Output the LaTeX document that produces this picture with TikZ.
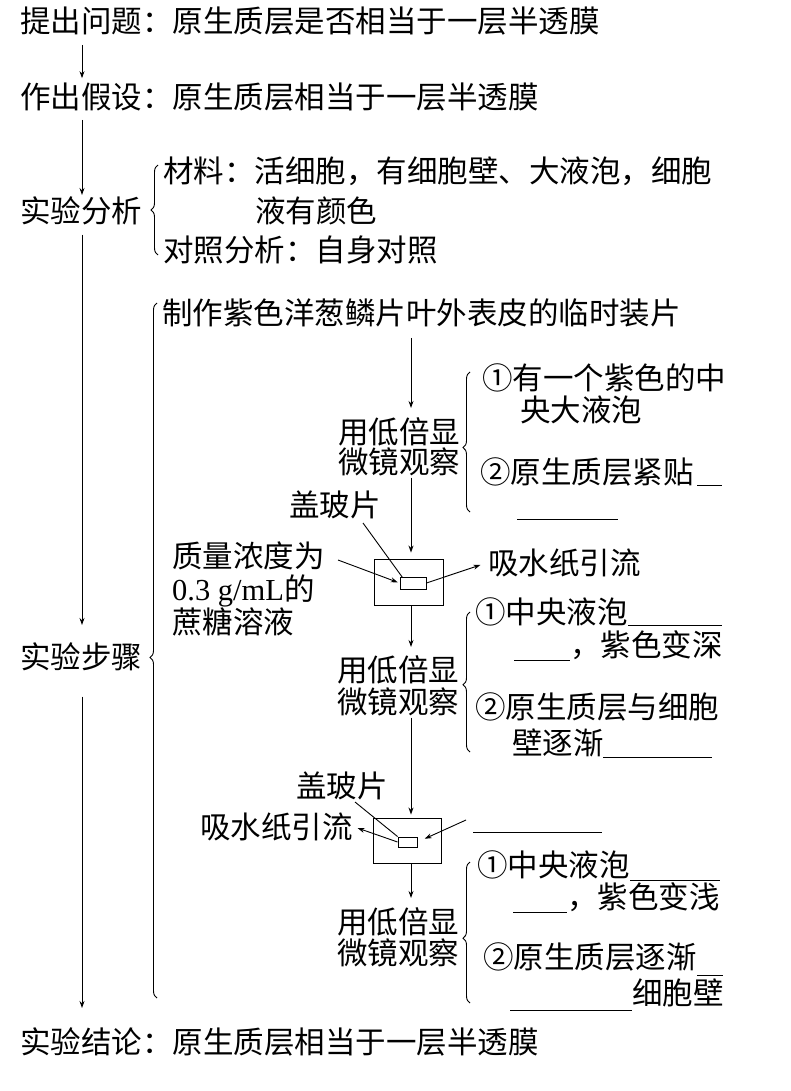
\documentclass[tikz,border=0pt]{standalone}
\usepackage{fontspec}
\setmainfont{Noto Sans CJK SC}
\newfontfamily\latinfont{Liberation Serif}
\usetikzlibrary{arrows.meta,decorations.pathreplacing,calc}
\begin{document}
\begin{tikzpicture}[x=1pt,y=-1pt,
  txt/.style={anchor=base west,inner sep=0pt,align=left,font=\fontsize{30.5}{32}\selectfont},
  arr/.style={line width=0.9pt,-{Stealth[length=7pt,width=5pt]}},
  ln/.style={line width=0.9pt},
  blank/.style={line width=0.9pt},
  brc/.style={line width=0.9pt,decorate,decoration={brace,amplitude=7pt}},
  box/.style={draw,line width=0.9pt,inner sep=0pt}]
\useasboundingbox (0,0) rectangle (790,1091);

% left column
\node[txt] (q1) at (20,33) {提出问题：原生质层是否相当于一层半透膜};
\node[txt] (q2) at (20,109) {作出假设：原生质层相当于一层半透膜};
\node[txt] (ana) at (20,223) {实验分析};
\node[txt] (steps) at (20,668) {实验步骤};
\node[txt] (concl) at (20,1053) {实验结论：原生质层相当于一层半透膜};
\coordinate (colA) at (82,0);

\draw[arr,shorten <=9pt,shorten >=5pt] (q1.south -| colA) -- (q2.north -| colA);
\draw[arr,shorten <=8pt,shorten >=2pt] (q2.south -| colA) -- (ana.north -| colA);
\draw[arr,shorten <=9pt,shorten >=17pt] (ana.south -| colA) -- (steps.north -| colA);
\draw[arr,shorten <=26pt,shorten >=19pt] (steps.south -| colA) -- (concl.north -| colA);

% analysis
\node[txt] (mat) at (163,223) {材料：活细胞，有细胞壁、大液泡，细胞\\[8pt]\hspace{92pt}液有颜色};
\node[txt] (ctrl) at (163,261) {对照分析：自身对照};
\draw[brc] (158,255) -- (158,165);

% steps brace
\draw[brc,decoration={aspect=0.49}] (157,998) -- (157,303);
\node[txt] (make) at (162,324) {制作紫色洋葱鳞片叶外表皮的临时装片};
\coordinate (colB) at (411,0);

% observation 1
\node[txt,font=\fontsize{30.5}{30}\selectfont] (obs1) at (338,473) {用低倍显\\微镜观察};
\draw[arr,shorten <=11pt,shorten >=9pt] (make.south -| colB) -- (obs1.north -| colB);
\draw[brc,decoration={aspect=0.46}] (470,512) -- (470,372);
\node[txt,font=\fontsize{30.5}{32}\selectfont] (o1a) at (482,421) {①有一个紫色的中\\\hspace{38pt}央大液泡};
\node[txt] (o1b) at (480,483) {②原生质层紧贴};
\draw[blank] (697,485) -- (722,485);
\draw[blank] (517,519) -- (618,519);

% slide 1
\node[box,minimum width=69pt,minimum height=46pt] (b1) at (408.5,582) {};
\node[box,minimum width=26pt,minimum height=12pt] (sr1) at (413,583) {};
\node[txt] (cov1) at (289,516) {盖玻片};
\node[txt,font=\fontsize{30.5}{33}\selectfont] (sol) at (172,633) {质量浓度为\\{\latinfont 0.3 g/mL}的\\蔗糖溶液};
\node[txt] (abs1) at (488,574) {吸水纸引流};
\coordinate (s1) at (338,560);
\coordinate (c1) at (363,523);
\draw[arr,shorten >=2pt] (s1) -- (sr1.west);
\draw[ln] (c1) -- ($(sr1.north west)+(3,1)$);
\draw[arr,shorten >=8pt] (sr1.east) -- (abs1.west);
\draw[arr,shorten <=2pt,shorten >=6pt] (obs1.south -| colB) -- (b1.north -| colB);

% observation 2
\node[txt,font=\fontsize{30.5}{32}\selectfont] (obs2) at (337,713) {用低倍显\\微镜观察};
\draw[arr,shorten >=8pt] (b1.south -| colB) -- (obs2.north -| colB);
\draw[brc,decoration={aspect=0.48}] (470,752) -- (470,612);
\node[txt,font=\fontsize{30.5}{33}\selectfont] (o2a) at (475,656) {①中央液泡\\\hspace{95pt}，紫色变深};
\draw[blank] (628,625) -- (722,625);
\draw[blank] (514,660) -- (570,660);
\node[txt,font=\fontsize{30.5}{36}\selectfont] (o2b) at (475,754) {②原生质层与细胞\\\hspace{37pt}壁逐渐};
\draw[blank] (603,757) -- (712,757);

% slide 2
\node[box,minimum width=68pt,minimum height=45pt] (b2) at (407,840.5) {};
\node[box,minimum width=19pt,minimum height=10pt] (sr2) at (407.5,842) {};
\node[txt] (cov2) at (296,797) {盖玻片};
\node[txt] (abs2) at (200,838) {吸水纸引流};
\coordinate (c2) at (355,802);
\coordinate (s2) at (466,820);
\draw[arr,shorten <=2pt,shorten >=3pt] (obs2.south -| colB) -- (b2.north -| colB);
\draw[ln] (c2) -- (sr2.north west);
\draw[arr,shorten >=5pt] (sr2.west) -- (abs2.east);
\draw[arr,shorten >=8pt] (s2) -- (sr2.east);
\draw[blank] (473,832) -- (602,832);

% observation 3
\node[txt,font=\fontsize{30.5}{31}\selectfont] (obs3) at (337,964) {用低倍显\\微镜观察};
\draw[arr,shorten >=9pt] (b2.south -| colB) -- (obs3.north -| colB);
\draw[brc,decoration={aspect=0.46}] (470,1003) -- (470,862);
\node[txt,font=\fontsize{30.5}{32}\selectfont] (o3a) at (477,908) {①中央液泡\\\hspace{90pt}，紫色变浅};
\draw[blank] (630,880) -- (720,880);
\draw[blank] (513,912) -- (567,912);
\node[txt,font=\fontsize{30.5}{36}\selectfont] (o3b) at (483,1004) {②原生质层逐渐\\\hspace{149pt}细胞壁};
\draw[blank] (697,975) -- (723,975);
\draw[blank] (510,1010) -- (632,1010);
\end{tikzpicture}
\end{document}
